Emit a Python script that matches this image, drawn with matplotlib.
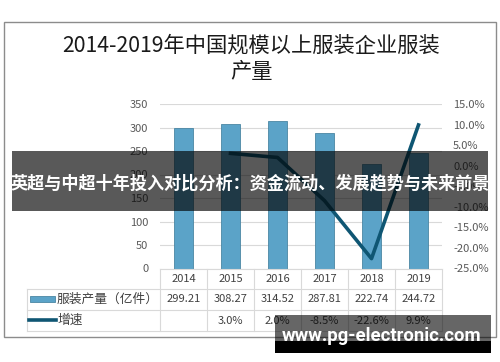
import matplotlib.pyplot as plt
import matplotlib.transforms as mtransforms
from matplotlib.patches import Rectangle
from matplotlib.lines import Line2D

plt.rcParams['font.family'] = ['Noto Sans CJK SC', 'DejaVu Sans']

years = ['2014', '2015', '2016', '2017', '2018', '2019']
output = [299.21, 308.27, 314.52, 287.81, 222.74, 244.72]
growth = [None, 3.0, 2.0, -8.5, -22.6, 9.9]
bar_label = '服装产量（亿件）'
line_label = '增速'
title = '2014-2019年中国规模以上服装企业服装\n产量'
banner = '英超与中超十年投入对比分析：资金流动、发展趋势与未来前景'
site = 'www.pg-electronic.com'

bar_color = '#5ba3c8'
line_color = '#0f5673'
grid_color = '#d9d9d9'
text_color = '#404040'

W, H = 500, 362
fig = plt.figure(figsize=(5, 3.62), dpi=100)


def fx(px):
    return px / W


def fy(py):
    return 1 - py / H


# plot area
ax = fig.add_axes([fx(160), fy(268.5), fx(442) - fx(160), fy(104) - fy(268.5)])
x = list(range(len(years)))
ax.bar(x, output, width=0.42, color=bar_color, edgecolor='#4a86a3', lw=0.6, zorder=2)
ax.set_xlim(-0.5, len(years) - 0.5)
ax.set_ylim(0, 350)
ax.set_yticks(range(0, 351, 50))
ax.yaxis.grid(True, color=grid_color, lw=0.8)
ax.set_axisbelow(True)
ax.set_xticks([])
ax.tick_params(axis='y', length=0, pad=8.5, labelsize=8, labelcolor='#595959')
for s in ax.spines.values():
    s.set_visible(False)

ax2 = ax.twinx()
gx = [i for i, g in zip(x, growth) if g is not None]
gy = [g for g in growth if g is not None]
ax2.plot(gx, gy, color=line_color, lw=2.6, zorder=3)
ax2.set_ylim(-25, 15)
ax2.set_yticks(range(-25, 16, 5))
ax2.set_yticklabels(['%.1f%%' % v for v in range(-25, 16, 5)])
ax2.tick_params(axis='y', length=0, pad=8, labelsize=8, labelcolor='#595959')
for s in ax2.spines.values():
    s.set_visible(False)

# data table under the plot
trans = mtransforms.blended_transform_factory(ax.transData, fig.transFigure)
rows = [269, 289, 310, 331]
fig.add_artist(Line2D([-0.5, len(years) - 0.5], [fy(rows[0])] * 2, transform=trans,
                      color=grid_color, lw=0.8))
for r in rows[1:]:
    fig.add_artist(Line2D([fx(27), fx(442)], [fy(r)] * 2, transform=fig.transFigure,
                          color=grid_color, lw=0.8))
for i in range(len(years) + 1):
    fig.add_artist(Line2D([i - 0.5] * 2, [fy(rows[0]), fy(rows[-1])], transform=trans,
                          color=grid_color, lw=0.8))
fig.add_artist(Line2D([fx(27)] * 2, [fy(rows[1]), fy(rows[-1])], transform=fig.transFigure,
                      color=grid_color, lw=0.8))

for i, (yr, v, g) in enumerate(zip(years, output, growth)):
    fig.text(i, fy(279), yr, transform=trans, ha='center', va='center',
             fontsize=8, color=text_color)
    fig.text(i, fy(299.5), '%.2f' % v, transform=trans, ha='center', va='center',
             fontsize=8, color=text_color)
    if g is not None:
        fig.text(i, fy(320.5), '%.1f%%' % g, transform=trans, ha='center', va='center',
                 fontsize=8, color=text_color)

# legend keys in the table
fig.add_artist(Rectangle((fx(30), fy(302)), fx(25), fy(296) - fy(302), transform=fig.transFigure,
                         facecolor=bar_color, edgecolor='#4a86a3', lw=0.6))
fig.add_artist(Line2D([fx(29), fx(56)], [fy(320)] * 2, transform=fig.transFigure,
                      color=line_color, lw=2.6))
fig.text(fx(57), fy(299.5), bar_label, ha='left', va='center', fontsize=9.2, color=text_color)
fig.text(fx(57), fy(320.5), line_label, ha='left', va='center', fontsize=9.2, color=text_color)

# title and frame
fig.text(fx(251), fy(59), title, ha='center', va='center', fontsize=15.3,
         linespacing=1.25, color='#1a1a1a')
fig.add_artist(Rectangle((fx(4), fy(337)), fx(492), fy(22) - fy(337), transform=fig.transFigure,
                         facecolor='none', edgecolor='#8c8c8c', lw=1))

# overlay banner
fig.add_artist(Rectangle((fx(12), fy(211)), fx(476), fy(151) - fy(211), transform=fig.transFigure,
                         facecolor='black', alpha=0.65, lw=0, zorder=10))
fig.text(fx(250), fy(183), banner, ha='center', va='center', fontsize=12.3,
         fontweight='bold', color='white', zorder=11)

# watermark
fig.add_artist(Rectangle((fx(275), fy(341)), fx(216), fy(315) - fy(341), transform=fig.transFigure,
                         facecolor='black', alpha=0.6, lw=0, zorder=10))
fig.add_artist(Rectangle((fx(275), fy(353)), fx(216), fy(341) - fy(353), transform=fig.transFigure,
                         facecolor='black', lw=0, zorder=10))
fig.text(fx(382), fy(336), site, ha='center', va='center', fontsize=13.3,
         fontweight='bold', family='Roboto', color='white', zorder=11)

fig.savefig('out.png', dpi=100)
